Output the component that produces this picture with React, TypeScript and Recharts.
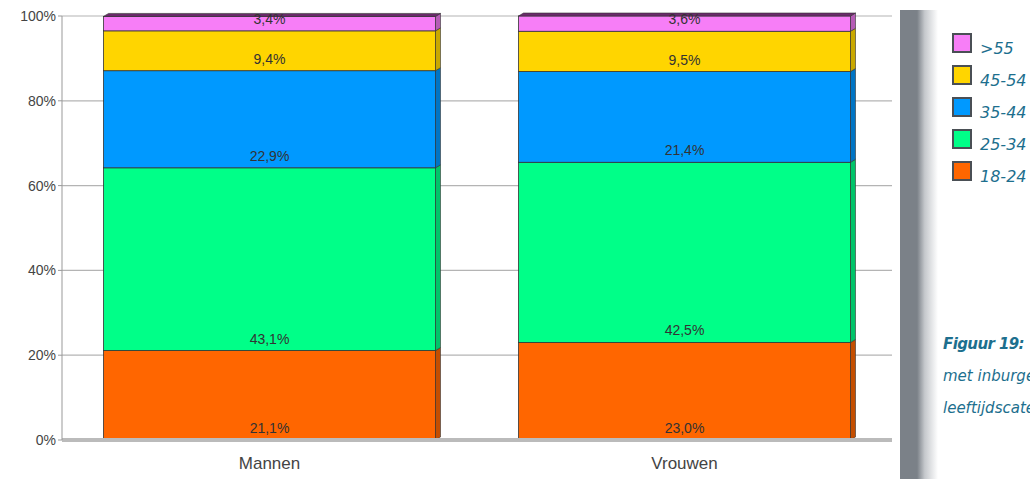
import React from "react";
import { BarChart, Bar, XAxis, YAxis, CartesianGrid, LabelList } from "recharts";

const groups = ["Mannen", "Vrouwen"];
const ageBands = ["18-24", "25-34", "35-44", "45-54", ">55"];
const band1824 = [21.1, 23.0];
const band2534 = [43.1, 42.5];
const band3544 = [22.9, 21.4];
const band4554 = [9.4, 9.5];
const band55 = [3.4, 3.6];
const yTicks = [0, 20, 40, 60, 80, 100];

const seriesValues = [band1824, band2534, band3544, band4554, band55];
const fills = ["#ff6600", "#00ff88", "#0099ff", "#ffd500", "#f77ef7"];
const sides = ["#c44e00", "#00c469", "#0074c4", "#c9a800", "#b55cb5"];

const keys = ["a", "b", "c", "d", "e"];
const data = groups.map((g, i) => {
  const row: Record<string, number | string> = { name: g };
  keys.forEach((k, s) => {
    row[k] = seriesValues[s][i];
  });
  return row;
});

const fmt = (v: number) => v.toFixed(1).replace(".", ",") + "%";

function makeShape(s: number, top: boolean) {
  return (props: any) => {
    const { x, y, width, height } = props;
    const d = 5;
    const u = 3;
    return (
      <g>
        <rect x={x} y={y} width={width} height={height} fill={fills[s]} stroke="#333" strokeWidth={0.8} />
        <polygon
          points={`${x + width},${y} ${x + width + d},${y - u} ${x + width + d},${y + height - u} ${x + width},${y + height}`}
          fill={sides[s]}
          stroke="#333"
          strokeWidth={0.6}
        />
        {top && (
          <polygon
            points={`${x},${y} ${x + d},${y - u} ${x + width + d},${y - u} ${x + width},${y}`}
            fill="#6b2a6b"
            stroke="#333"
            strokeWidth={0.6}
          />
        )}
      </g>
    );
  };
}

const renderLabel = (props: any) => {
  const { x, y, width, height, value } = props;
  return (
    <text
      x={x + width / 2}
      y={y + height - 7}
      textAnchor="middle"
      fontSize={14}
      fontFamily="Liberation Sans, Arial, sans-serif"
      fill="#333"
    >
      {fmt(value)}
    </text>
  );
};

const teal = "#1d6f8e";
const sideFont = "'DejaVu Sans', sans-serif";

export default function App() {
  return (
    <div
      style={{
        position: "absolute",
        left: 0,
        top: 0,
        width: 1030,
        height: 479,
        overflow: "hidden",
        background: "#fff",
      }}
    >
      <BarChart
        width={900}
        height={479}
        data={data}
        margin={{ top: 16, right: 8, left: 0, bottom: 0 }}
        barCategoryGap="10%"
      >
        <CartesianGrid vertical={false} stroke="#b4b4b4" strokeWidth={1.2} />
        <XAxis
          dataKey="name"
          height={39}
          tickLine={false}
          axisLine={{ stroke: "#bbb", strokeWidth: 4 }}
          tick={{ fontSize: 17, fill: "#444", fontFamily: "Liberation Sans, Arial, sans-serif" }}
          tickMargin={11}
        />
        <YAxis
          width={62}
          domain={[0, 100]}
          ticks={yTicks}
          tickFormatter={(v) => `${v}%`}
          axisLine={{ stroke: "#999" }}
          tickLine={{ stroke: "#999" }}
          tickSize={4}
          tick={{ fontSize: 14, fill: "#444", fontFamily: "Liberation Sans, Arial, sans-serif" }}
        />
        {keys.map((k, s) => (
          <Bar
            key={k}
            dataKey={k}
            name={ageBands[s]}
            stackId="x"
            isAnimationActive={false}
            shape={makeShape(s, s === keys.length - 1)}
          >
            <LabelList dataKey={k} content={renderLabel} />
          </Bar>
        ))}
      </BarChart>

      <div
        style={{
          position: "absolute",
          left: 900,
          top: 10,
          width: 38,
          height: 469,
          background: "linear-gradient(to right, #7b8188 0%, #7b8188 45%, #c5c8cc 65%, #ffffff 100%)",
        }}
      />

      <div style={{ position: "absolute", left: 952, top: 30 }}>
        {ageBands
          .map((b, s) => ({ b, s }))
          .reverse()
          .map(({ b, s }) => (
            <div key={b} style={{ display: "flex", alignItems: "center", height: 32 }}>
              <div
                style={{
                  width: 16,
                  height: 16,
                  background: fills[s],
                  border: "2px solid #4a4f55",
                  marginRight: 8,
                  marginTop: -6,
                }}
              />
              <span
                style={{
                  fontFamily: sideFont,
                  fontStyle: "italic",
                  fontSize: 16,
                  color: teal,
                  whiteSpace: "nowrap",
                  marginTop: 4,
                }}
              >
                {b}
              </span>
            </div>
          ))}
      </div>

      <div
        style={{
          position: "absolute",
          left: 943,
          top: 328,
          fontFamily: sideFont,
          fontStyle: "italic",
          fontSize: 15,
          color: teal,
          whiteSpace: "nowrap",
          lineHeight: "32px",
        }}
      >
        <div style={{ fontWeight: "bold", letterSpacing: -0.6 }}>Figuur 19:</div>
        <div>met inburgeringsplicht</div>
        <div>leeftijdscategorie</div>
      </div>
    </div>
  );
}
